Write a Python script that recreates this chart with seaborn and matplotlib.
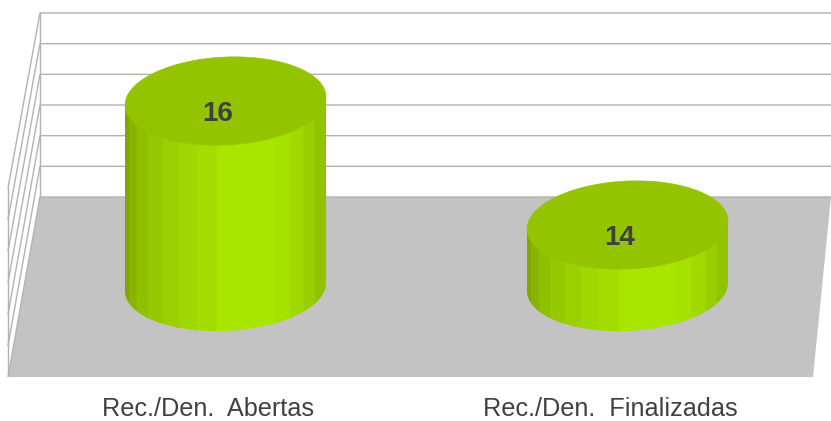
import matplotlib
matplotlib.use("Agg")
import matplotlib.pyplot as plt
import numpy as np
import seaborn as sns
from matplotlib.patches import Polygon, Rectangle
from matplotlib.transforms import ScaledTranslation

categories = ["Rec./Den.  Abertas", "Rec./Den.  Finalizadas"]
values = [16, 14]
axis_min = 13
wall_ticks = [13, 13.5, 14, 14.5, 15, 15.5, 16]

W, H, FLOOR_PX = 831, 421, 377
GRID = "#b2b2b2"
TOP = "#94c400"
INK = "#404040"
# shading of the cylinder side, left to right (edge as fraction of the width)
band_edges = [0, .02, .061, .116, .187, .27, .36, .456, .739, .82, .889, .945, 1]
band_colors = ["#80a800", "#88b400", "#90bf00", "#95c800", "#9ad000", "#9fd700",
               "#a4de00", "#a8e600", "#a5e200", "#9fd900", "#98cf00", "#90c300"]

sns.set_theme(style="white")
plt.rcParams["font.family"] = ["Liberation Sans", "DejaVu Sans"]

fig = plt.figure(figsize=(W / 100, H / 100), dpi=100)
ax = fig.add_axes([0, 1 - FLOOR_PX / H, 1, FLOOR_PX / H])
sns.barplot(x=categories, y=values, color=band_colors[7], width=0.5, gap=0, ax=ax,
            saturation=1, zorder=3)

# x: categories 402 px apart, first at 225.5 px; y: 62 px per unit, 16 at 101 px
ax.set_xlim(-225.5 / 402, (W - 225.5) / 402)
ax.set_ylim(16 - (FLOOR_PX - 101) / 62, 16 + 101 / 62)
ax.set_xlabel("")
ax.set_ylabel("")
ax.set_yticks([])
sns.despine(ax=ax, left=True, bottom=True, right=True, top=True)


def px(x, y):
    return x / W, 1 - y / FLOOR_PX


def back_y(v):
    return 197 - (v - axis_min) * 184 / 3


def front_y(v):
    return 377 - (v - axis_min) * 63


# floor
ax.add_patch(Polygon([px(40, 197), px(W, 197), px(813, 377), px(8, 377)], closed=True,
                     transform=ax.transAxes, fc="#c3c3c3", ec="none", zorder=1, clip_on=False))
# back and side walls
for v in wall_ticks:
    xs, ys = zip(px(8, front_y(v)), px(40, back_y(v)), px(W, back_y(v)))
    ax.plot(xs, ys, transform=ax.transAxes, color=GRID, lw=1.0, zorder=1.5)
xs, ys = zip(px(40, back_y(16)), px(40, back_y(13)))
ax.plot(xs, ys, transform=ax.transAxes, color=GRID, lw=1.0, zorder=1.5)
xs, ys = zip(px(8, front_y(16)), px(8, front_y(13)))
ax.plot(xs, ys, transform=ax.transAxes, color=GRID, lw=1.0, zorder=1.5)

B = 44 / 62
S = 4 / 62
for bar, v in zip(ax.patches[:len(values)], values):
    x0, w = bar.get_x(), bar.get_width()
    cx, a = x0 + w / 2, w / 2
    bar.set_y(axis_min)
    bar.set_height(v - axis_min)

    t = np.linspace(np.pi, 2 * np.pi, 80)
    lower = np.column_stack([cx + a * np.cos(t), axis_min + B * np.sin(t) + S * np.cos(t)])
    outline = np.vstack([lower, [cx + a, v + S], [cx - a, v - S]])
    body = Polygon(outline, closed=True, transform=ax.transData, fc="none", ec="none")
    ax.add_patch(body)
    bar.set_clip_path(body)
    for i, col in enumerate(band_colors):
        left = x0 + band_edges[i] * w
        band = Rectangle((left, axis_min - 1), (band_edges[i + 1] - band_edges[i]) * w,
                         v - axis_min + 2, fc=col, ec=col, lw=0.3, zorder=3.2)
        ax.add_patch(band)
        band.set_clip_path(body)

    t = np.linspace(0, 2 * np.pi, 200)
    cap = np.column_stack([cx + a * np.cos(t), v + B * np.sin(t) + S * np.cos(t)])
    ax.add_patch(Polygon(cap, closed=True, fc=TOP, ec=TOP, lw=0.4, zorder=4))
    ax.annotate(str(v), (cx, v), xytext=(-7.5 * 0.72, -12.5 * 0.72), textcoords="offset points",
                ha="center", va="center", fontsize=20, fontweight="bold", color=INK, zorder=5)

# axis labels sit left of the bar centres
ax.set_xticks(range(len(categories)), categories)
ax.tick_params(axis="x", length=0, pad=14.5, labelsize=18.2, labelcolor=INK)
shift = ScaledTranslation(-17 / 100, 0, fig.dpi_scale_trans)
for lab in ax.get_xticklabels():
    lab.set_transform(lab.get_transform() + shift)

fig.savefig("out.png", dpi=100, facecolor="white")
